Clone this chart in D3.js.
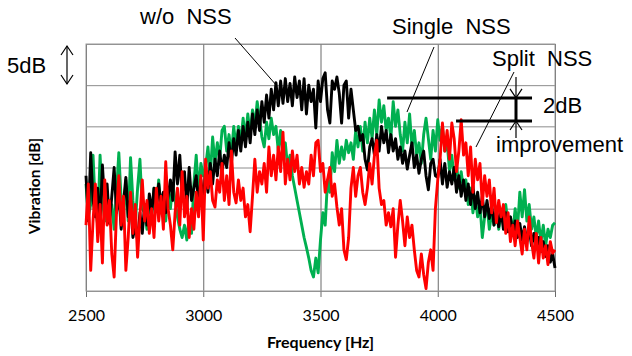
<!DOCTYPE html>
<html>
<head>
<meta charset="utf-8">
<script src="https://cdn.jsdelivr.net/npm/d3@7"></script>
<style>
  body { margin: 0; background: #fff; }
  svg text { font-family: "Liberation Sans", Arial, sans-serif; fill: #000; }
</style>
</head>
<body>
<div id="chart"></div>
<script>
// frequency grid of the spectra (Hz)
const freqStart = 2500, freqEnd = 4500, freqStep = 10;
const xTicks = [2500, 3000, 3500, 4000, 4500];
const yGrid = [0, 5, 10, 15, 20, 25, 30];   // one gridline = 5dB

// vibration levels [dB], every 10 Hz
const woNss = [
  14.0, 8.5, 16.8, 11.0, 9.0, 12.5, 8.0, 15.3, 10.5, 13.0, 8.2,
  11.5, 15.0, 9.5, 12.0, 7.5, 10.8, 13.8, 9.0, 11.2, 6.5,
  8.0, 6.2, 9.5, 7.0, 10.5, 8.0, 11.8, 9.5, 12.5, 10.0,
  13.0, 10.5, 12.0, 9.5, 11.5, 13.5, 11.0, 16.9, 13.0, 16.5,
  11.5, 14.5, 10.0, 15.0, 11.0, 12.5, 14.0, 10.5, 13.5, 11.0,
  14.5, 12.0, 15.5, 13.0, 16.0, 14.0, 17.0, 14.5, 16.5, 15.0,
  18.0, 15.5, 18.5, 16.5, 19.5, 17.0, 20.0, 17.5, 20.5, 18.0,
  21.5, 19.0, 22.0, 19.5, 23.0, 20.5, 23.8, 21.0, 24.5, 22.0,
  25.3, 22.5, 25.5, 22.8, 25.8, 23.0, 25.2, 22.5, 26.0, 23.5,
  25.5, 22.0, 25.8, 21.5, 25.0, 23.0, 24.5, 19.8, 25.5, 23.0,
  25.8, 26.5, 22.0, 20.4, 25.5, 24.5, 26.0, 24.0, 20.4, 25.0,
  25.5, 21.0, 24.5, 22.0, 19.5, 20.0, 18.3, 19.0, 16.0, 14.7,
  17.5, 18.5, 16.5, 19.0, 17.0, 20.0, 18.0, 19.5, 16.8, 19.0,
  17.0, 18.5, 16.0, 17.5, 15.5, 17.0, 14.8, 16.5, 18.0, 15.0,
  16.5, 14.3, 16.0, 17.0, 14.0, 12.3, 15.5, 16.0, 14.0, 13.8,
  16.0, 13.0, 15.5, 12.6, 14.5, 13.0, 15.0, 12.0, 14.0, 11.5,
  13.5, 11.0, 13.0, 10.5, 12.8, 10.0, 12.0, 9.5, 11.5, 9.0,
  11.0, 8.8, 10.5, 8.0, 10.0, 7.8, 9.8, 7.5, 9.5, 7.2,
  9.0, 7.0, 8.5, 6.5, 8.2, 6.2, 7.8, 6.0, 7.5, 5.5,
  7.0, 5.3, 6.5, 4.8, 6.0, 4.2, 5.5, 3.5, 4.5, 2.8
];
const singleNss = [
  13.0, 9.0, 10.5, 16.5, 10.0, 8.0, 16.5, 11.0, 8.5, 12.0, 9.0,
  10.5, 7.5, 12.0, 16.8, 11.0, 9.0, 13.5, 8.5, 16.2, 11.0,
  8.0, 12.5, 16.0, 10.0, 9.5, 7.5, 11.0, 9.0, 12.5, 10.0,
  13.5, 9.5, 11.5, 8.5, 12.5, 10.0, 13.0, 11.0, 9.0, 7.5,
  6.5, 8.0, 6.2, 9.0, 7.0, 13.0, 16.5, 12.0, 15.5, 14.0,
  15.0, 17.5, 14.0, 18.7, 15.5, 18.0, 16.0, 19.5, 20.0, 17.0,
  19.0, 16.5, 20.0, 17.5, 20.0, 18.0, 21.0, 18.5, 21.5, 19.0,
  22.0, 20.0, 23.0, 21.0, 18.7, 17.5, 20.5, 18.5, 21.0, 19.0,
  20.0, 17.0, 19.5, 16.5, 18.0, 15.0, 16.5, 14.0, 12.5, 11.0,
  9.5, 8.0, 6.5, 5.3, 4.0, 2.5, 1.7, 4.0, 2.2, 6.2,
  9.5, 8.0, 13.5, 12.0, 16.8, 14.5, 18.3, 15.5, 17.5, 16.0,
  18.3, 16.8, 18.0, 16.0, 19.5, 17.5, 20.0, 17.0, 20.5, 18.0,
  21.0, 18.5, 22.0, 19.0, 23.2, 20.5, 22.5, 19.5, 21.0, 18.5,
  23.0, 20.0, 22.0, 19.0, 17.0, 20.5, 18.0, 21.5, 17.5, 19.5,
  16.5, 18.0, 15.5, 19.0, 21.0, 18.5, 16.0, 19.5, 17.0, 20.8,
  18.3, 20.0, 17.0, 18.0, 14.7, 16.5, 13.5, 15.5, 12.5, 14.5,
  12.3, 13.5, 10.5, 12.5, 9.5, 11.5, 9.0, 10.5, 6.5, 9.0,
  10.5, 7.5, 9.5, 8.0, 10.0, 7.5, 9.5, 8.5, 10.5, 8.0,
  9.0, 7.0, 10.0, 7.5, 12.0, 9.0, 12.3, 8.5, 10.5, 7.5,
  9.0, 6.5, 8.5, 6.0, 8.0, 5.5, 7.5, 6.5, 8.0, 8.3
];
const splitNss = [
  8.0, 13.0, 2.5, 8.5, 13.0, 6.0, 10.5, 3.4, 13.5, 8.0, 11.0,
  4.5, 1.7, 9.5, 14.0, 8.0, 11.5, 2.5, 6.5, 12.0, 7.0,
  10.5, 4.1, 9.0, 13.5, 8.5, 11.0, 7.0, 10.0, 6.5, 12.5,
  8.5, 11.5, 7.5, 15.7, 10.0, 8.0, 5.0, 9.5, 12.5, 8.0,
  14.5, 9.0, 11.5, 6.5, 10.0, 7.5, 12.0, 9.0, 14.0, 6.2,
  16.0, 12.5, 14.5, 11.0, 10.2, 13.5, 12.0, 15.5, 11.0, 14.0,
  10.5, 17.0, 12.0, 10.7, 13.5, 11.0, 12.5, 9.0, 10.5, 7.2,
  11.5, 16.0, 12.0, 14.5, 13.0, 15.5, 12.0, 17.5, 14.0, 16.5,
  13.5, 17.5, 14.5, 19.3, 13.0, 16.0, 13.5, 17.0, 14.5, 16.5,
  13.0, 15.0, 12.6, 14.5, 13.0, 16.5, 14.0, 18.0, 18.3, 14.5,
  15.5, 12.0, 13.5, 15.0, 11.5, 13.0, 10.2, 8.0, 10.0, 5.0,
  3.8, 6.5, 12.5, 15.0, 11.5, 14.0, 15.0, 12.0, 10.5, 12.5,
  15.5, 13.0, 16.5, 18.3, 12.5, 10.5, 11.0, 8.0, 9.5, 7.8,
  10.0, 4.1, 8.0, 11.0, 8.5, 5.5, 9.0, 6.5, 8.0, 5.0,
  2.5, 1.7, 4.5, 2.0, 0.3, 3.5, 5.0, 2.5, 10.0, 13.5,
  16.0, 20.4, 17.0, 19.5, 16.0, 20.4, 18.5, 14.5, 17.0, 20.8,
  16.5, 18.0, 14.0, 17.5, 12.0, 16.0, 13.5, 15.5, 10.5, 14.0,
  11.5, 13.5, 9.5, 12.5, 8.3, 11.0, 9.0, 10.5, 7.0, 9.5,
  6.0, 8.0, 5.5, 8.5, 6.5, 4.5, 7.5, 5.0, 9.0, 6.0,
  4.0, 7.0, 3.4, 6.5, 4.0, 5.5, 3.2, 6.0, 4.6, 5.0
];

const width = 632, height = 356;
const margin = { top: 44, right: 77, bottom: 65, left: 86 };
const plotW = width - margin.left - margin.right;
const plotH = height - margin.top - margin.bottom;

const freqs = d3.range(freqStart, freqEnd + 1, freqStep);

const svg = d3.select('#chart')
  .append('svg')
  .attr('width', width)
  .attr('height', height);

const x = d3.scaleLinear().domain([freqStart, freqEnd]).range([margin.left, width - margin.right]);
const y = d3.scaleLinear().domain([0, 30]).range([height - margin.bottom, margin.top]);

// horizontal gridlines
svg.append('g')
  .attr('transform', `translate(${margin.left}, 0)`)
  .call(d3.axisLeft(y).tickValues(yGrid).tickSize(-plotW).tickFormat(''))
  .call(g => g.select('.domain').remove())
  .call(g => g.selectAll('line').attr('stroke', '#8c8c8c'));

// vertical gridlines + ticks + labels
svg.append('g')
  .attr('transform', `translate(0, ${height - margin.bottom + 6})`)
  .call(d3.axisBottom(x).tickValues(xTicks).tickSize(-(plotH + 6)).tickPadding(13).tickFormat(d3.format('d')))
  .call(g => g.select('.domain').remove())
  .call(g => g.selectAll('line').attr('stroke', '#6a6a6a'))
  .call(g => g.selectAll('text')
    .style('font-family', 'Lato, "Open Sans", sans-serif')
    .style('font-size', '16px')
    .attr('fill', '#222'));

// plot border
svg.append('rect')
  .attr('x', margin.left).attr('y', margin.top)
  .attr('width', plotW).attr('height', plotH)
  .attr('fill', 'none').attr('stroke', '#9a9a9a');

// spectra
const line = d3.line()
  .x((d, i) => x(freqs[i]))
  .y(d => y(d));

const series = [
  { values: singleNss, color: '#00b050' },
  { values: woNss, color: '#000000' },
  { values: splitNss, color: '#ff0000' }
];

svg.selectAll('.spec')
  .data(series)
  .enter()
  .append('path')
  .attr('class', 'spec')
  .attr('d', d => line(d.values))
  .attr('fill', 'none')
  .attr('stroke', d => d.color)
  .attr('stroke-width', 2.9)
  .attr('stroke-linejoin', 'round');

// axis titles
svg.append('text')
  .attr('x', x(3500))
  .attr('y', 348)
  .attr('text-anchor', 'middle')
  .style('font-family', 'Lato, "Open Sans", sans-serif')
  .style('font-size', '16px')
  .style('font-weight', 'bold')
  .attr('fill', '#222')
  .text('Frequency [Hz]');

svg.append('text')
  .attr('transform', 'rotate(-90)')
  .attr('x', -186)
  .attr('y', 40)
  .attr('text-anchor', 'middle')
  .style('font-family', 'Lato, "Open Sans", sans-serif')
  .style('font-size', '15.5px')
  .style('font-weight', 'bold')
  .attr('fill', '#222')
  .text('Vibration [dB]');

// annotations
const note = (tx, ty, s) => svg.append('text')
  .attr('x', tx).attr('y', ty)
  .style('font-size', '22px')
  .style('white-space', 'pre')
  .attr('xml:space', 'preserve')
  .text(s);

note(140, 24, 'w/o  NSS');
note(392, 34, 'Single  NSS');
note(492, 66, 'Split  NSS');
note(543, 113, '2dB');
note(496, 152, 'improvement');
note(7, 73, '5dB');

const seg = (x1, y1, x2, y2, w) => svg.append('line')
  .attr('x1', x1).attr('y1', y1).attr('x2', x2).attr('y2', y2)
  .attr('stroke', '#000').attr('stroke-width', w);

// leader lines
seg(235, 38, 277, 86, 1);
seg(434, 47, 407, 112, 1);
seg(514, 72, 476, 147, 1);

// 2dB bracket
seg(x(3784), y(23.45), x(4402), y(23.45), 3);
seg(x(4078), y(20.65), x(4402), y(20.65), 3);
seg(516, y(23.45), 516, y(20.65), 3);
seg(516, 77, 516, y(23.45), 1.2);
seg(516, 138, 516, y(20.65), 1.2);

const chevron = (cx, cy, dir) => svg.append('path')
  .attr('d', `M${cx - 6},${cy - 9 * dir} L${cx},${cy} L${cx + 6},${cy - 9 * dir}`)
  .attr('fill', 'none').attr('stroke', '#000').attr('stroke-width', 1.2);

chevron(516, y(23.45), 1);
chevron(516, y(20.65), -1);

// 5dB double arrow
seg(67, 46, 67, 84, 1.2);
chevron(67, 46, -1);
chevron(67, 84, 1);
</script>
</body>
</html>
